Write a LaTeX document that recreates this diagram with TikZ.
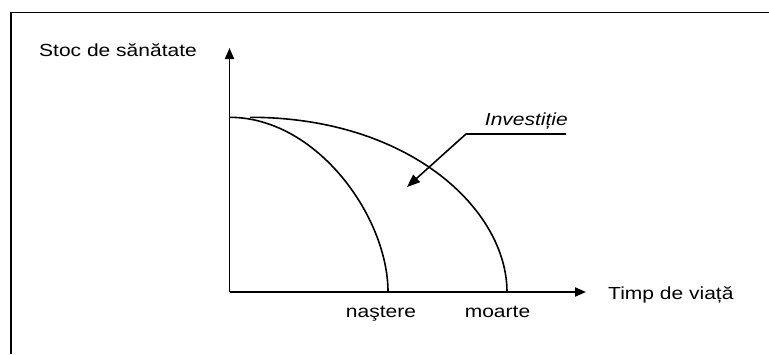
\documentclass[tikz,border=0pt]{standalone}
\usepackage{fontspec}
\setmainfont{Liberation Sans}[FakeStretch=1.2]
\usetikzlibrary{arrows.meta}
\tikzset{
  lbl/.style={inner sep=0pt, font=\fontsize{17.5}{20}\selectfont},
  axis/.style={line width=1.9pt, -{Triangle[length=11pt,width=9pt]}},
  curve/.style={line width=1.6pt},
  frame/.style={line width=1.6pt}
}
\begin{document}
\begin{tikzpicture}[x=1pt,y=-1pt]
\useasboundingbox (0,0) rectangle (769,354);
% frame
\coordinate (fbl) at (11,354);
\coordinate (ftl) at (11,12.5);
\coordinate (ftr) at (769,12.5);
\draw[frame] (fbl) -- (ftl) -- (ftr);
% axes
\coordinate (O) at (229.5,292);
\coordinate (ytip) at (229.5,48);
\coordinate (xtip) at (586,292);
\draw[axis] (O) -- (ytip);
\draw[axis] (O) -- (xtip);
% curves
\coordinate (c1s) at (229.5,117.3);
\coordinate (c1e) at (388,292);
\coordinate (c2s) at (250,117.3);
\coordinate (c2e) at (507,292);
\draw[curve] (c1s) .. controls (317,117.3) and (388,217) .. (c1e);
\draw[curve] (c2s) .. controls (410,117.3) and (507,210) .. (c2e);
% investment pointer
\coordinate (pstart) at (566,134);
\coordinate (pcorner) at (466,134);
\coordinate (ptip) at (407,187);
\draw[curve, -{Triangle[length=13pt,width=10pt]}] (pstart) -- (pcorner) -- (ptip);
% labels
\node[lbl, anchor=base west] (ylab) at (39,56) {Stoc de sănătate};
\node[lbl, anchor=base west] (xlab) at (608,299) {Timp de viață};
\node[lbl, anchor=base] (nast) at (381,317) {naştere};
\node[lbl, anchor=base] (moar) at (497.5,317) {moarte};
\node[lbl, anchor=base east] (inv) at (568,125) {\itshape Investiție};
\end{tikzpicture}
\end{document}
